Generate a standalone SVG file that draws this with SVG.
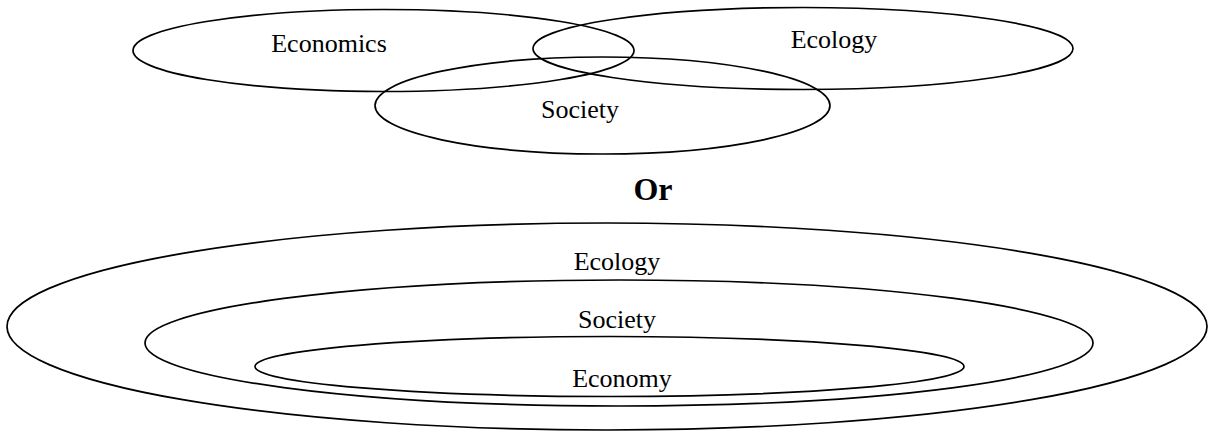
<svg xmlns="http://www.w3.org/2000/svg" width="1209" height="432" viewBox="0 0 1209 432">
<style>
.ring{fill:none;stroke:#000;stroke-width:1.7}
.lbl{font-family:"Liberation Serif","Times New Roman",serif;font-size:26px;fill:#000;text-anchor:middle}
.or{font-family:"Liberation Serif","Times New Roman",serif;font-size:32px;font-weight:bold;fill:#000;text-anchor:middle}
</style>
<rect width="1209" height="432" fill="#fff"/>
<g id="economics">
<ellipse class="ring" cx="383.5" cy="50.5" rx="250.5" ry="41"/>
<text class="lbl" x="329" y="52">Economics</text>
</g>
<g id="ecology-top">
<ellipse class="ring" cx="803" cy="48.5" rx="270" ry="41"/>
<text class="lbl" x="834" y="48">Ecology</text>
</g>
<g id="society-top">
<ellipse class="ring" cx="602.5" cy="105.5" rx="227.5" ry="48.5"/>
<text class="lbl" x="580" y="118">Society</text>
</g>
<g id="or">
<text class="or" x="653" y="200">Or</text>
</g>
<g id="ecology-outer">
<ellipse class="ring" cx="607" cy="326.5" rx="600" ry="103.5"/>
<text class="lbl" x="617" y="270">Ecology</text>
</g>
<g id="society-middle">
<ellipse class="ring" cx="619" cy="343" rx="474" ry="63"/>
<text class="lbl" x="617" y="328">Society</text>
</g>
<g id="economy-inner">
<ellipse class="ring" cx="609.5" cy="366.5" rx="354.5" ry="30"/>
<text class="lbl" x="622" y="387">Economy</text>
</g>
<g id="connectors"/>
</svg>
